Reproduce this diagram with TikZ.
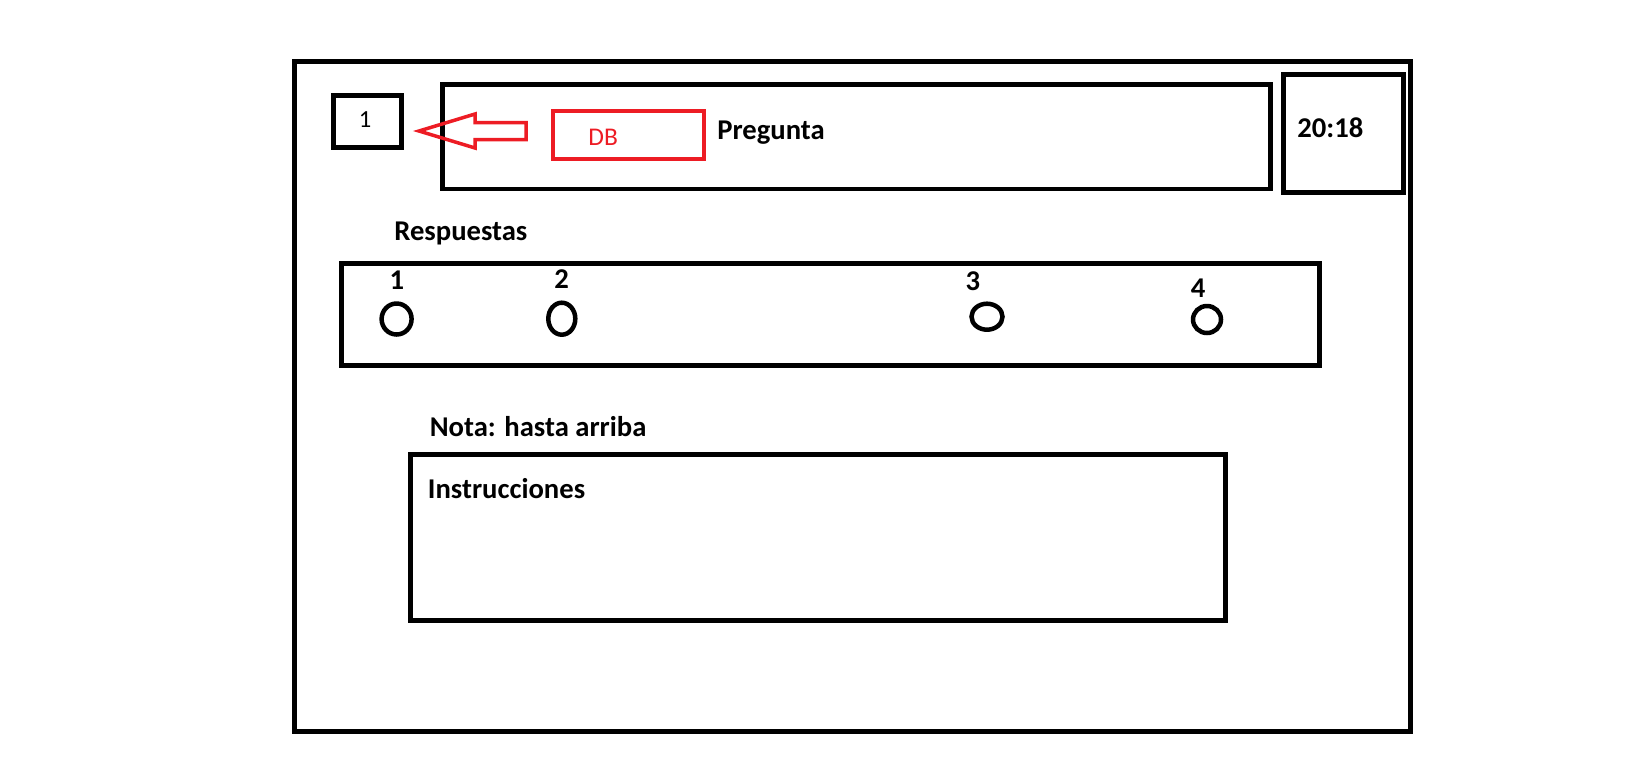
\documentclass[tikz,border=0pt]{standalone}
\usepackage{fontspec}
\setmainfont{Carlito}
\usepackage{tikz}
\usetikzlibrary{shapes.geometric, positioning, calc}
\definecolor{paintred}{RGB}{237,28,36}

\tikzset{
    box/.style={draw, line width=1mm, inner sep=0, outer sep=0},
    redbox/.style={draw=paintred, line width=0.08cm, inner sep=0, outer sep=0},
    opcion/.style={ellipse, draw, line width=0.09cm, inner sep=0},
    label/.style={inner sep=0, font=\bfseries\fontsize{16.3}{19}\selectfont}
}

\begin{document}
\begin{tikzpicture}[x=0.02cm, y=-0.02cm]
        \useasboundingbox (0,0) rectangle (1649,762);

        % Boxes
        \node[box, minimum width=22.33cm, minimum height=13.4cm] (pantalla) at (852.75,396.5) {};
        \node[box, minimum width=1.38cm, minimum height=1.04cm] (numero) at (367.5,121) {};
        \node[box, minimum width=16.57cm, minimum height=2.1cm] (pregunta) at (856.75,136.5) {};
        \node[box, minimum width=2.41cm, minimum height=2.36cm] (reloj) at (1343.25,133.5) {};
        \node[redbox, minimum width=3.03cm, minimum height=0.95cm] (db) at (628.25,134.85) {};
        \node[box, minimum width=19.58cm, minimum height=2.03cm] (respuestas) at (830.4,314.25) {};
        \node[box, minimum width=16.31cm, minimum height=3.33cm] (instrucciones) at (818.25,537.25) {};

        % Arrow from DB
        \coordinate (punta) at (419,131);
        \coordinate (cola) at (526,131);
        \draw[paintred, line width=0.07cm, line join=miter] (punta) -- ++(56,-17) -- ++(0,8.5)
            -- ($(cola)+(0,-8.5)$) -- ($(cola)+(0,8.5)$) -- ++(-51,0) -- ++(0,8.5) -- cycle;

        % Options
        \node[opcion, minimum width=0.6cm, minimum height=0.62cm] (op1) at (396.6,319) {};
        \node[opcion, minimum width=0.54cm, minimum height=0.64cm] (op2) at (561.8,318.7) {};
        \node[opcion, minimum width=0.62cm, minimum height=0.52cm] (op3) at (987,316.7) {};
        \node[opcion, minimum width=0.56cm, minimum height=0.54cm] (op4) at (1207,319.5) {};

        % Labels
        \node[inner sep=0, anchor=base, font=\fontsize{14}{16}\selectfont] (num) at (365,127.3) {1};
        \node[inner sep=0, anchor=base west, text=paintred, font=\fontsize{14.5}{17}\selectfont] (dbtxt) at (588,145) {DB};
        \node[label, anchor=base west] (pregtxt) at (717,139) {Pregunta};
        \node[label, anchor=base west] (hora) at (1297,137) {20:18};
        \node[label, anchor=base west] (resptxt) at (394,240.7) {Respuestas};
        \node[label, anchor=base] (n1) at (397,289.3) {1};
        \node[label, anchor=base] (n2) at (561.5,288.3) {2};
        \node[label, anchor=base] (n3) at (972.8,290.7) {3};
        \node[label, anchor=base] (n4) at (1198,297.3) {4};
        \node[label, anchor=base west] (nota) at (429.5,436.7) {Nota: hasta arriba};
        \node[label, anchor=base west] (instrtxt) at (427.6,498.3) {Instrucciones};

    \end{tikzpicture}
\end{document}
